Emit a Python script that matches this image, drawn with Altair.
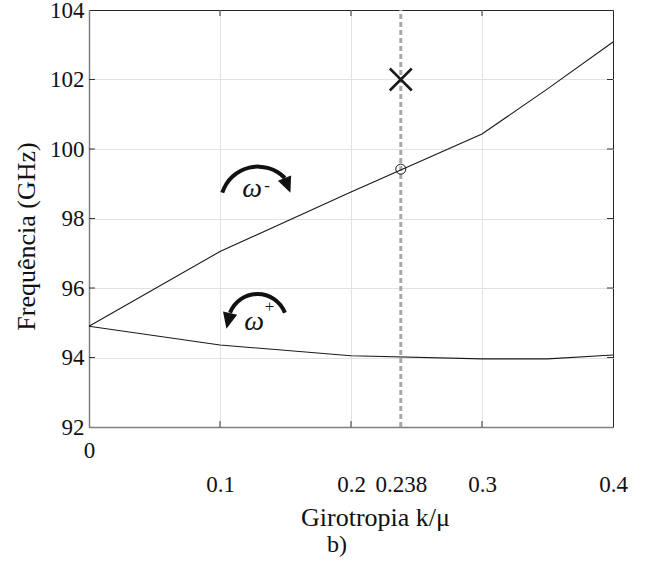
import altair as alt
import pandas as pd

# ---- data ----
k_vals = [0.0, 0.1, 0.2, 0.3, 0.35, 0.4]
omega_minus = [94.9, 97.05, 98.76, 100.43, 101.73, 103.08]
omega_plus = [94.9, 94.36, 94.05, 93.96, 93.96, 94.07]

k_sel = 0.238
f_circle = 99.42
f_cross = 102.0

x_tick_values = [0, 0.1, 0.2, 0.238, 0.3, 0.4]
x_tick_labels = ["0", "0.1", "0.2", "0.238", "0.3", "0.4"]
y_tick_values = [92, 94, 96, 98, 100, 102, 104]
x_inner_ticks = [0.1, 0.2, 0.3]
y_inner_ticks = [94, 96, 98, 100, 102]

W, H = 524, 417
FONT = "Liberation Serif"

rows = []
for k, a, b in zip(k_vals, omega_minus, omega_plus):
    rows.append({"k": k, "f": a, "s": "minus"})
    rows.append({"k": k, "f": b, "s": "plus"})
lines_df = pd.DataFrame(rows)

xs = alt.Scale(domain=[0, 0.4], nice=False, zero=False)
ys = alt.Scale(domain=[92, 104], nice=False, zero=False)

vals_js = "[" + ",".join(str(v) for v in x_tick_values) + "]"
labs_js = "[" + ",".join("'" + s + "'" for s in x_tick_labels) + "]"
label_expr = f"{labs_js}[indexof({vals_js}, datum.value)]"

x_axis = alt.Axis(
    values=x_tick_values,
    labelExpr=label_expr,
    grid=True,
    gridColor={"condition": {"test": "datum.value == 0 || datum.value == 0.238 || datum.value == 0.4",
                             "value": "transparent"}, "value": "#e2e2e2"},
    ticks=False,
    domainColor="#7f7f7f",
    domainWidth=1.5,
    labelFont=FONT,
    labelFontSize=23,
    labelColor="#111111",
    labelFlush=False,
    labelOverlap=False,
    labelBound=False,
    labelBaseline="top",
    labelPadding={"condition": {"test": "datum.value == 0", "value": 12}, "value": 46},
    title="Girotropia k/μ",
    titleFont=FONT,
    titleFontSize=26,
    titleFontWeight="normal",
    titleColor="#111111",
    titleX=286,
    titleY=90,
    titleAlign="center",
    titleBaseline="middle",
)

y_axis = alt.Axis(
    values=y_tick_values,
    grid=True,
    gridColor={"condition": {"test": "datum.value == 92 || datum.value == 104",
                             "value": "transparent"}, "value": "#e2e2e2"},
    ticks=False,
    domainColor="#7f7f7f",
    domainWidth=1.5,
    labelFont=FONT,
    labelFontSize=23,
    labelColor="#111111",
    labelPadding=5,
    labelFlush=False,
    labelOverlap=False,
    title="Frequência (GHz)",
    titleFont=FONT,
    titleFontSize=26,
    titleFontWeight="normal",
    titleColor="#111111",
    titleX=-63,
    titleY=226,
    titleAngle=-90,
    titleAlign="center",
    titleBaseline="middle",
)

X = alt.X("k:Q", scale=xs, axis=x_axis)
Y = alt.Y("f:Q", scale=ys, axis=y_axis)

lines = alt.Chart(lines_df).mark_line(color="#1a1a1a", strokeWidth=1.1).encode(
    x=X, y=Y, detail="s:N"
)

dash_df = pd.DataFrame({"k": [k_sel], "f": [92.0], "f2": [104.0]})
dash = alt.Chart(dash_df).mark_rule(color="#a8a8a8", strokeWidth=3, strokeDash=[5, 3]).encode(
    x=X, y=Y, y2="f2:Q"
)

circle = alt.Chart(pd.DataFrame({"k": [k_sel], "f": [f_circle]})).mark_point(
    shape="circle", size=100, filled=False, color="#1a1a1a", strokeWidth=1, opacity=1
).encode(x=X, y=Y)

cross = alt.Chart(pd.DataFrame({"k": [k_sel], "f": [f_cross]})).mark_point(
    shape="M-1,-1L1,1M-1,1L1,-1", size=484, filled=False, color="#1a1a1a", strokeWidth=2.5, opacity=1
).encode(x=X, y=Y)

# inward box ticks
yt_df = pd.DataFrame({"f": y_inner_ticks})
xt_df = pd.DataFrame({"k": x_inner_ticks})
tick_col = "#333333"
yt_left = alt.Chart(yt_df).mark_rule(color=tick_col, strokeWidth=1).encode(
    y=Y, x=alt.value(0), x2=alt.value(6))
yt_right = alt.Chart(yt_df).mark_rule(color=tick_col, strokeWidth=1).encode(
    y=Y, x=alt.value(W - 6), x2=alt.value(W))
xt_bot = alt.Chart(xt_df).mark_rule(color=tick_col, strokeWidth=1).encode(
    x=X, y=alt.value(H - 6), y2=alt.value(H))
xt_top = alt.Chart(xt_df).mark_rule(color=tick_col, strokeWidth=1).encode(
    x=X, y=alt.value(0), y2=alt.value(6))

# rotation arrows (annotations)
arc_minus = alt.Chart(pd.DataFrame({"k": [0.129], "f": [98.414]})).mark_arc(
    radius=35.5, radius2=39.5, theta=6.2832 - 1.262, theta2=6.2832 + 0.80, color="#111111"
).encode(x=X, y=Y)
arc_plus = alt.Chart(pd.DataFrame({"k": [0.1286], "f": [94.98]})).mark_arc(
    radius=27.4, radius2=31.4, theta=6.2832 - 1.2, theta2=6.2832 + 1.2, color="#111111"
).encode(x=X, y=Y)

head_path = "M0,-1L0.9,1L-0.9,1Z"
head_minus = alt.Chart(pd.DataFrame({"k": [0.1515], "f": [98.95]})).mark_point(
    shape=head_path, size=250, filled=True, color="#111111", angle=158, opacity=1
).encode(x=X, y=Y)
head_plus = alt.Chart(pd.DataFrame({"k": [0.1063], "f": [95.05]})).mark_point(
    shape=head_path, size=260, filled=True, color="#111111", angle=193, opacity=1
).encode(x=X, y=Y)

omega_df = pd.DataFrame({"k": [0.1245, 0.1260], "f": [98.62, 94.78], "t": ["ω", "ω"]})
omega = alt.Chart(omega_df).mark_text(
    font=FONT, fontSize=28, fontStyle="italic", color="#111111", align="center", baseline="alphabetic"
).encode(x=X, y=Y, text="t:N")

sup_df = pd.DataFrame({"k": [0.1359, 0.1378], "f": [98.94, 95.45], "t": ["-", "+"]})
sup = alt.Chart(sup_df).mark_text(
    font=FONT, fontSize=17, color="#111111", align="center", baseline="middle"
).encode(x=X, y=Y, text="t:N")

caption = alt.Chart(pd.DataFrame({"t": ["b)"]})).mark_text(
    font=FONT, fontSize=24, color="#111111", align="center", baseline="middle"
).encode(x=alt.value(248), y=alt.value(535), text="t:N")

chart = alt.layer(
    dash, lines, circle, cross,
    yt_left, yt_right, xt_bot, xt_top,
    arc_minus, arc_plus, head_minus, head_plus, omega, sup, caption
).properties(
    width=W, height=H,
    autosize=alt.AutoSizeParams(type="none"),
    padding={"left": 89, "top": 10, "right": 649 - 89 - W, "bottom": 563 - 10 - H},
    background="white",
).configure_view(stroke="#262626", strokeWidth=1)

chart.save("out.html", embed_options={"renderer": "svg", "actions": False})
